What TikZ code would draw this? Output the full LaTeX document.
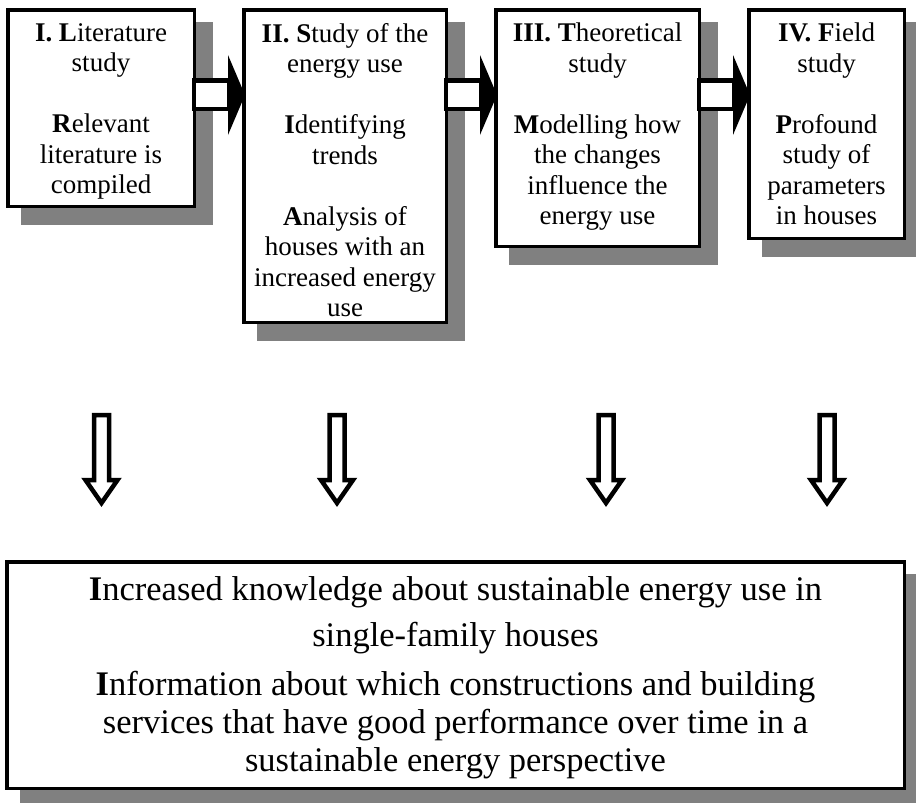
\documentclass[tikz,border=0pt]{standalone}
\usepackage{fontspec}
\setmainfont{Liberation Serif}
\usetikzlibrary{positioning, calc, backgrounds}
\definecolor{shadowgray}{HTML}{808080}
\newcommand{\boxtext}[4]{\parbox[c][#2][t]{#1}{\centering\vspace*{#3}#4}}

\begin{document}
\begin{tikzpicture}[
    x=1pt, y=-1pt,
    stage/.style={rectangle, draw=black, line width=3.5pt, fill=white, anchor=north west, inner sep=0pt, font=\fontsize{27}{30.5}\selectfont},
    result/.style={stage, font=\fontsize{34.5}{38}\selectfont},
    shaft/.style={draw=black, line width=4.5pt, fill=white},
    downarrow/.style={draw=black, line width=4.5pt, fill=white, miter limit=10}
]
\useasboundingbox (0,0) rectangle (916,803);

% Study stages
\node[stage] (b1) at (6,8) {\boxtext{186.5pt}{196.5pt}{13.5pt}
    {\textbf{I. L}iterature\\ study\\[30.5pt] \textbf{R}elevant\\ literature is\\ compiled}};
\node[stage] (b2) at (242,8) {\boxtext{202.5pt}{312.5pt}{13.5pt}
    {\textbf{II. S}tudy of the\\ energy use\\[30.5pt] \textbf{I}dentifying\\ trends\\[30.5pt] \textbf{A}nalysis of\\ houses with an\\ increased energy\\ use}};
\node[stage] (b3) at (494,8) {\boxtext{203.5pt}{236.5pt}{13.5pt}
    {\textbf{III. T}heoretical\\ study\\[30.5pt] \textbf{M}odelling how\\ the changes\\ influence the\\ energy use}};
\node[stage] (b4) at (747,8) {\boxtext{155.5pt}{228.5pt}{13.5pt}
    {\textbf{IV. F}ield\\ study\\[30.5pt] \textbf{P}rofound\\ study of\\ parameters\\ in houses}};

% Outcome
\node[result] (res) at (5,560) {\boxtext{897.5pt}{226.5pt}{14.5pt}
    {\textbf{I}ncreased knowledge about sustainable energy use in\\[8pt] single-family houses\\[11pt] \textbf{I}nformation about which constructions and building\\ services that have good performance over time in a\\ sustainable energy perspective}};

% Shadows
\begin{scope}[on background layer]
\foreach \n in {b1,b2,b3,b4,res}
    \fill[shadowgray] ($(\n.north west)+(15,14)$) rectangle ($(\n.south east)+(17,17)$);
\end{scope}

% Block arrows between stages
\foreach \a/\b in {b1/b2, b2/b3, b3/b4} {
    \draw[shaft] ($(\a.north east)+(-2,72.5)$) rectangle ($(\b.north west)+(-13,101)$);
    \fill ($(\b.north west)+(-14,47)$) -- ($(\b.north west)+(3,87)$) -- ($(\b.north west)+(-14,127)$) -- cycle;
}

% Down arrows
\foreach \c in {101.5, 337, 606, 827}
    \draw[downarrow] (\c-7.5,415) -- (\c+7.5,415) -- (\c+7.5,480) -- (\c+16,480) -- (\c,503) -- (\c-16,480) -- (\c-7.5,480) -- cycle;

\end{tikzpicture}
\end{document}
